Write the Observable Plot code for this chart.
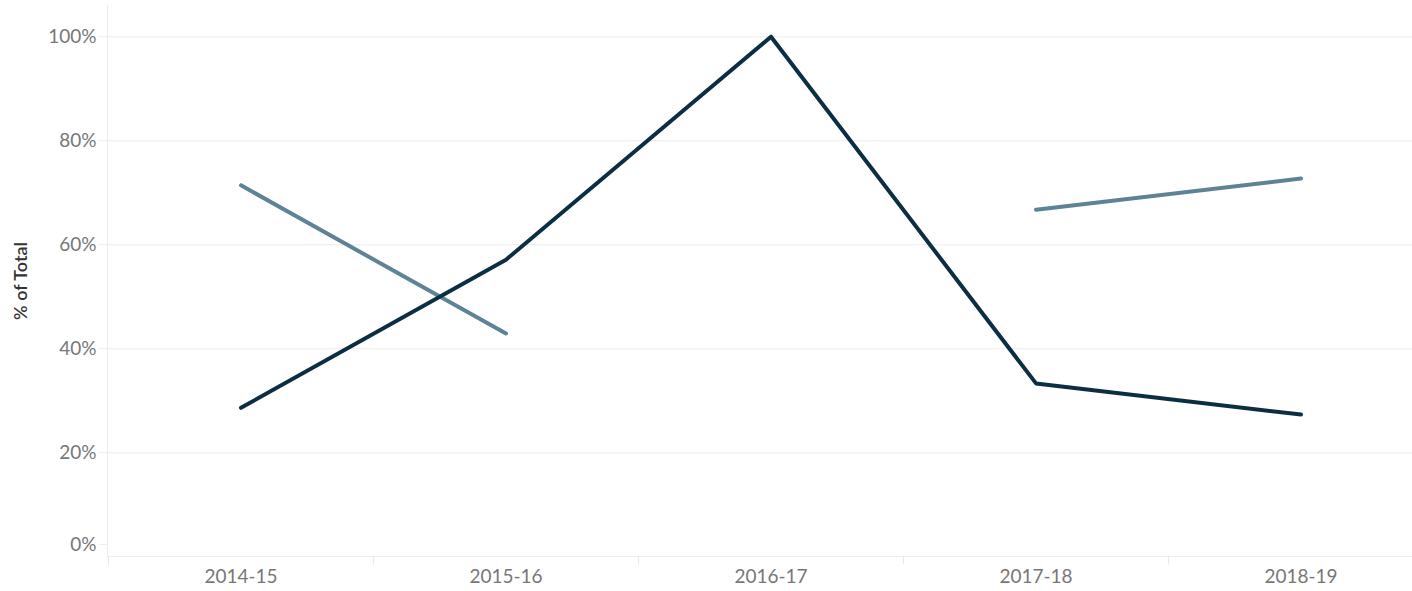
<!DOCTYPE html>
<html>
<head>
<meta charset="utf-8">
<script src="https://cdn.jsdelivr.net/npm/d3@7"></script>
<script src="https://cdn.jsdelivr.net/npm/@observablehq/plot@0.6"></script>
<style>
  html, body { margin: 0; padding: 0; background: #fff; }
  svg { display: block; }
</style>
</head>
<body>
<div id="chart"></div>
<script>
const years = ["2014-15", "2015-16", "2016-17", "2017-18", "2018-19"];
const seriesDark = [0.286, 0.571, 1.0, 0.333, 0.273];
const seriesLight = [0.714, 0.429, null, 0.667, 0.727];
const yTicks = [0, 0.2, 0.4, 0.6, 0.8, 1.0];

const dark = years.map((year, i) => ({year, value: seriesDark[i]}));
const light = years.map((year, i) => ({year, value: seriesLight[i]}));

const W = 1412, H = 591;
const bandRange = [107, 1433];
const bw = (bandRange[1] - bandRange[0]) / years.length;
const fmt = d => Math.round(d * 100) + "%";

const chart = Plot.plot({
  width: W,
  height: H,
  marginLeft: 107,
  marginRight: 0,
  marginTop: 5,
  marginBottom: 35,
  style: {fontFamily: "Lato, 'Open Sans', sans-serif", background: "#fff"},
  x: {type: "band", domain: years, range: bandRange, padding: 0},
  y: {domain: [0, 1.06]},
  marks: [
    Plot.ruleY(yTicks, {stroke: "#efefef", strokeWidth: 1.2}),
    Plot.frame({anchor: "left", stroke: "#ececec"}),
    Plot.ruleX(years, {x: d => d, dx: -bw / 2, y1: 0, y2: -0.016, stroke: "#e6e6e6"}),
    Plot.axisY({
      ticks: yTicks.filter(d => d > 0),
      tickFormat: fmt,
      tickSize: 8,
      tickPadding: 3,
      stroke: "#efefef",
      fill: "#777",
      fontSize: 19,
      label: null
    }),
    Plot.axisY({
      ticks: [0],
      tickFormat: fmt,
      tickSize: 8,
      tickPadding: 3,
      stroke: "#efefef",
      fill: "#777",
      fontSize: 19,
      dy: -12,
      label: null
    }),
    Plot.axisX({
      tickSize: 0,
      tickPadding: 13,
      fill: "#777",
      fontSize: 19,
      label: null
    }),
    Plot.line(light, {x: "year", y: "value", stroke: "#5e8296", strokeWidth: 4, strokeLinecap: "round", strokeLinejoin: "round"}),
    Plot.line(dark, {x: "year", y: "value", stroke: "#0c2e43", strokeWidth: 4, strokeLinecap: "round", strokeLinejoin: "round"}),
    Plot.text(["% of Total"], {
      frameAnchor: "left",
      textAnchor: "middle",
      dx: -86,
      rotate: -90,
      fill: "#333",
      fontSize: 18,
      fontWeight: 600
    })
  ]
});
document.getElementById("chart").appendChild(chart);
</script>
</body>
</html>
